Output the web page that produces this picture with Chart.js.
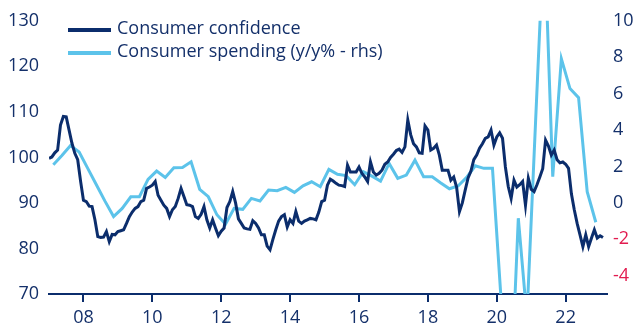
<!DOCTYPE html>
<html>
<head>
<meta charset="utf-8">
<script src="https://cdn.jsdelivr.net/npm/chart.js@4.4.0/dist/chart.umd.min.js"></script>
<style>
  html, body { margin: 0; padding: 0; background: #fff; }
</style>
</head>
<body>
<canvas id="confidenceChart" width="633" height="332"></canvas>
<script>
// Consumer confidence, monthly from Jan 2007 (index)
const confidenceStart = 2007;
const confidence = [
  99.8, 100.1, 101.0, 101.6, 107.1, 109.0, 108.9, 106.0, 103.1, 100.9, 99.5, 94.8,
  90.6, 90.3, 89.3, 89.2, 86.3, 82.6, 82.4, 82.5, 83.7, 81.5, 83.1, 83.0,
  83.7, 83.9, 84.1, 85.5, 87.0, 88.0, 88.8, 89.2, 90.3, 90.6, 93.2, 93.5,
  93.9, 94.7, 91.7, 90.6, 89.5, 88.8, 87.0, 88.5, 89.2, 91.0, 93.2, 91.4,
  89.6, 89.5, 89.2, 87.0, 86.6, 87.5, 89.2, 86.3, 84.5, 86.3, 84.5, 82.8,
  83.8, 84.5, 89.0, 90.3, 92.5, 90.0, 86.5, 85.5, 84.5, 84.3, 84.2, 86.1,
  85.5, 84.5, 83.0, 83.0, 80.5, 79.7, 82.0, 84.1, 86.0, 87.0, 87.4, 84.7,
  86.3, 85.5, 88.1, 86.0, 85.5, 86.0, 86.3, 86.6, 86.5, 86.3, 88.0, 90.3,
  90.6, 93.9, 95.2, 94.8, 94.3, 93.9, 93.8, 93.6, 98.3, 96.8, 96.8, 96.8,
  97.9, 96.5, 95.7, 94.7, 99.0, 96.8, 96.1, 96.5, 97.2, 98.5, 99.0, 100.0,
  100.7, 101.5, 101.8, 101.1, 102.3, 108.2, 105.0, 103.0, 102.3, 101.0, 100.9, 106.9,
  106.0, 101.6, 102.0, 102.7, 100.5, 97.2, 97.2, 97.2, 95.0, 95.7, 93.5, 88.1,
  90.0, 92.8, 95.5, 97.0, 99.5, 100.5, 102.0, 103.0, 104.2, 104.5, 106.0, 102.7,
  104.5, 105.4, 104.2, 97.9, 93.6, 91.0, 95.0, 93.5, 94.0, 94.7, 89.5, 95.4,
  93.0, 92.5, 94.0, 95.7, 97.5, 103.8, 102.5, 100.5, 101.6, 99.5, 98.8, 99.0,
  98.5, 97.6, 92.0, 88.5, 85.5, 83.0, 80.4, 83.0, 80.4, 82.3, 84.1, 82.3,
  82.8, 82.4
];

// Consumer spending y/y %, quarterly from 2007 Q1
const spendingStart = 2007;
const spending = [
  2.1, 2.6, 3.15, 2.8,
  1.9, 1.0, 0.1, -0.75,
  -0.3, 0.34, 0.34, 1.29,
  1.75, 1.4, 1.93, 1.95,
  2.26, 0.75, 0.34, -0.65,
  -1.17, -0.3, -0.35, 0.25,
  0.11, 0.71, 0.67, 0.85,
  0.58, 0.94, 1.16, 0.89,
  1.84, 1.57, 1.5, 1.0,
  1.71, 1.47, 1.2, 2.17,
  1.35, 1.53, 2.35, 1.44,
  1.44, 1.1, 0.78, 0.93,
  1.4, 2.04, 1.9, 1.9,
  -5.3, -12.0, -0.84, -6.3,
  4.4, 15.0, 1.44, 7.92,
  6.28, 5.78, 0.62, -1.06
];

const yearTicks = [2008, 2010, 2012, 2014, 2016, 2018, 2020, 2022];
const leftTicks = [70, 80, 90, 100, 110, 120, 130];
const rightTicks = [-4, -2, 0, 2, 4, 6, 8, 10];
const seriesNames = ['Consumer confidence', 'Consumer spending (y/y% - rhs)'];

const NAVY = '#0b2d6c';
const SKY = '#5cc3ea';
const TEXT = '#14306a';
const RED = '#e21c50';
const FONT = '"Open Sans", sans-serif';

const confidencePoints = confidence.map((v, i) => ({ x: confidenceStart + i / 12, y: v }));
const spendingPoints = spending.map((v, k) => ({ x: spendingStart + k / 4 + 0.125, y: v }));

// legend drawn as a stacked list in the top-left corner
const insideLegend = {
  id: 'insideLegend',
  afterDraw(chart) {
    const ctx = chart.ctx;
    const colors = [NAVY, SKY];
    ctx.save();
    ctx.font = '18px ' + FONT;
    ctx.textBaseline = 'middle';
    seriesNames.forEach((name, i) => {
      const y = 30 + i * 23;
      ctx.strokeStyle = colors[i];
      ctx.lineWidth = 4;
      ctx.beginPath();
      ctx.moveTo(68, y);
      ctx.lineTo(111, y);
      ctx.stroke();
      ctx.fillStyle = TEXT;
      ctx.fillText(name, 117, y - 1);
    });
    ctx.restore();
  }
};

new Chart(document.getElementById('confidenceChart'), {
  type: 'line',
  data: {
    datasets: [
      {
        label: seriesNames[0],
        data: confidencePoints,
        borderColor: NAVY,
        borderWidth: 3,
        pointRadius: 0,
        tension: 0,
        yAxisID: 'y'
      },
      {
        label: seriesNames[1],
        data: spendingPoints,
        borderColor: SKY,
        borderWidth: 3,
        pointRadius: 0,
        tension: 0,
        yAxisID: 'y1'
      }
    ]
  },
  options: {
    responsive: false,
    animation: false,
    events: [],
    layout: { padding: { top: 20, left: 0, right: 0, bottom: 0 } },
    plugins: {
      legend: { display: false },
      tooltip: { enabled: false }
    },
    scales: {
      x: {
        type: 'linear',
        min: 2007,
        max: 2023.2,
        afterBuildTicks: (scale) => { scale.ticks = yearTicks.map(v => ({ value: v })); },
        afterFit: (scale) => { scale.height = 38; },
        border: { display: true, color: NAVY, width: 2 },
        grid: { display: true, drawOnChartArea: false, drawTicks: true, tickLength: 8, color: NAVY, lineWidth: 2 },
        ticks: {
          color: TEXT,
          font: { family: FONT, size: 18 },
          padding: 5,
          maxRotation: 0,
          autoSkip: false,
          callback: (v) => String(v).slice(2)
        }
      },
      y: {
        position: 'left',
        min: 70,
        max: 130,
        afterBuildTicks: (scale) => { scale.ticks = leftTicks.map(v => ({ value: v })); },
        afterFit: (scale) => { scale.width = 49; },
        border: { display: false },
        grid: { display: false, drawTicks: false },
        ticks: { color: TEXT, font: { family: FONT, size: 18 }, padding: 10 }
      },
      y1: {
        position: 'right',
        min: -5,
        max: 10,
        afterBuildTicks: (scale) => { scale.ticks = rightTicks.map(v => ({ value: v })); },
        afterFit: (scale) => { scale.width = 26; },
        border: { display: false },
        grid: { display: false, drawTicks: false },
        ticks: {
          color: (c) => (c.tick && c.tick.value < 0 ? RED : TEXT),
          font: { family: FONT, size: 18 },
          padding: 6
        }
      }
    }
  },
  plugins: [insideLegend]
});
</script>
</body>
</html>
